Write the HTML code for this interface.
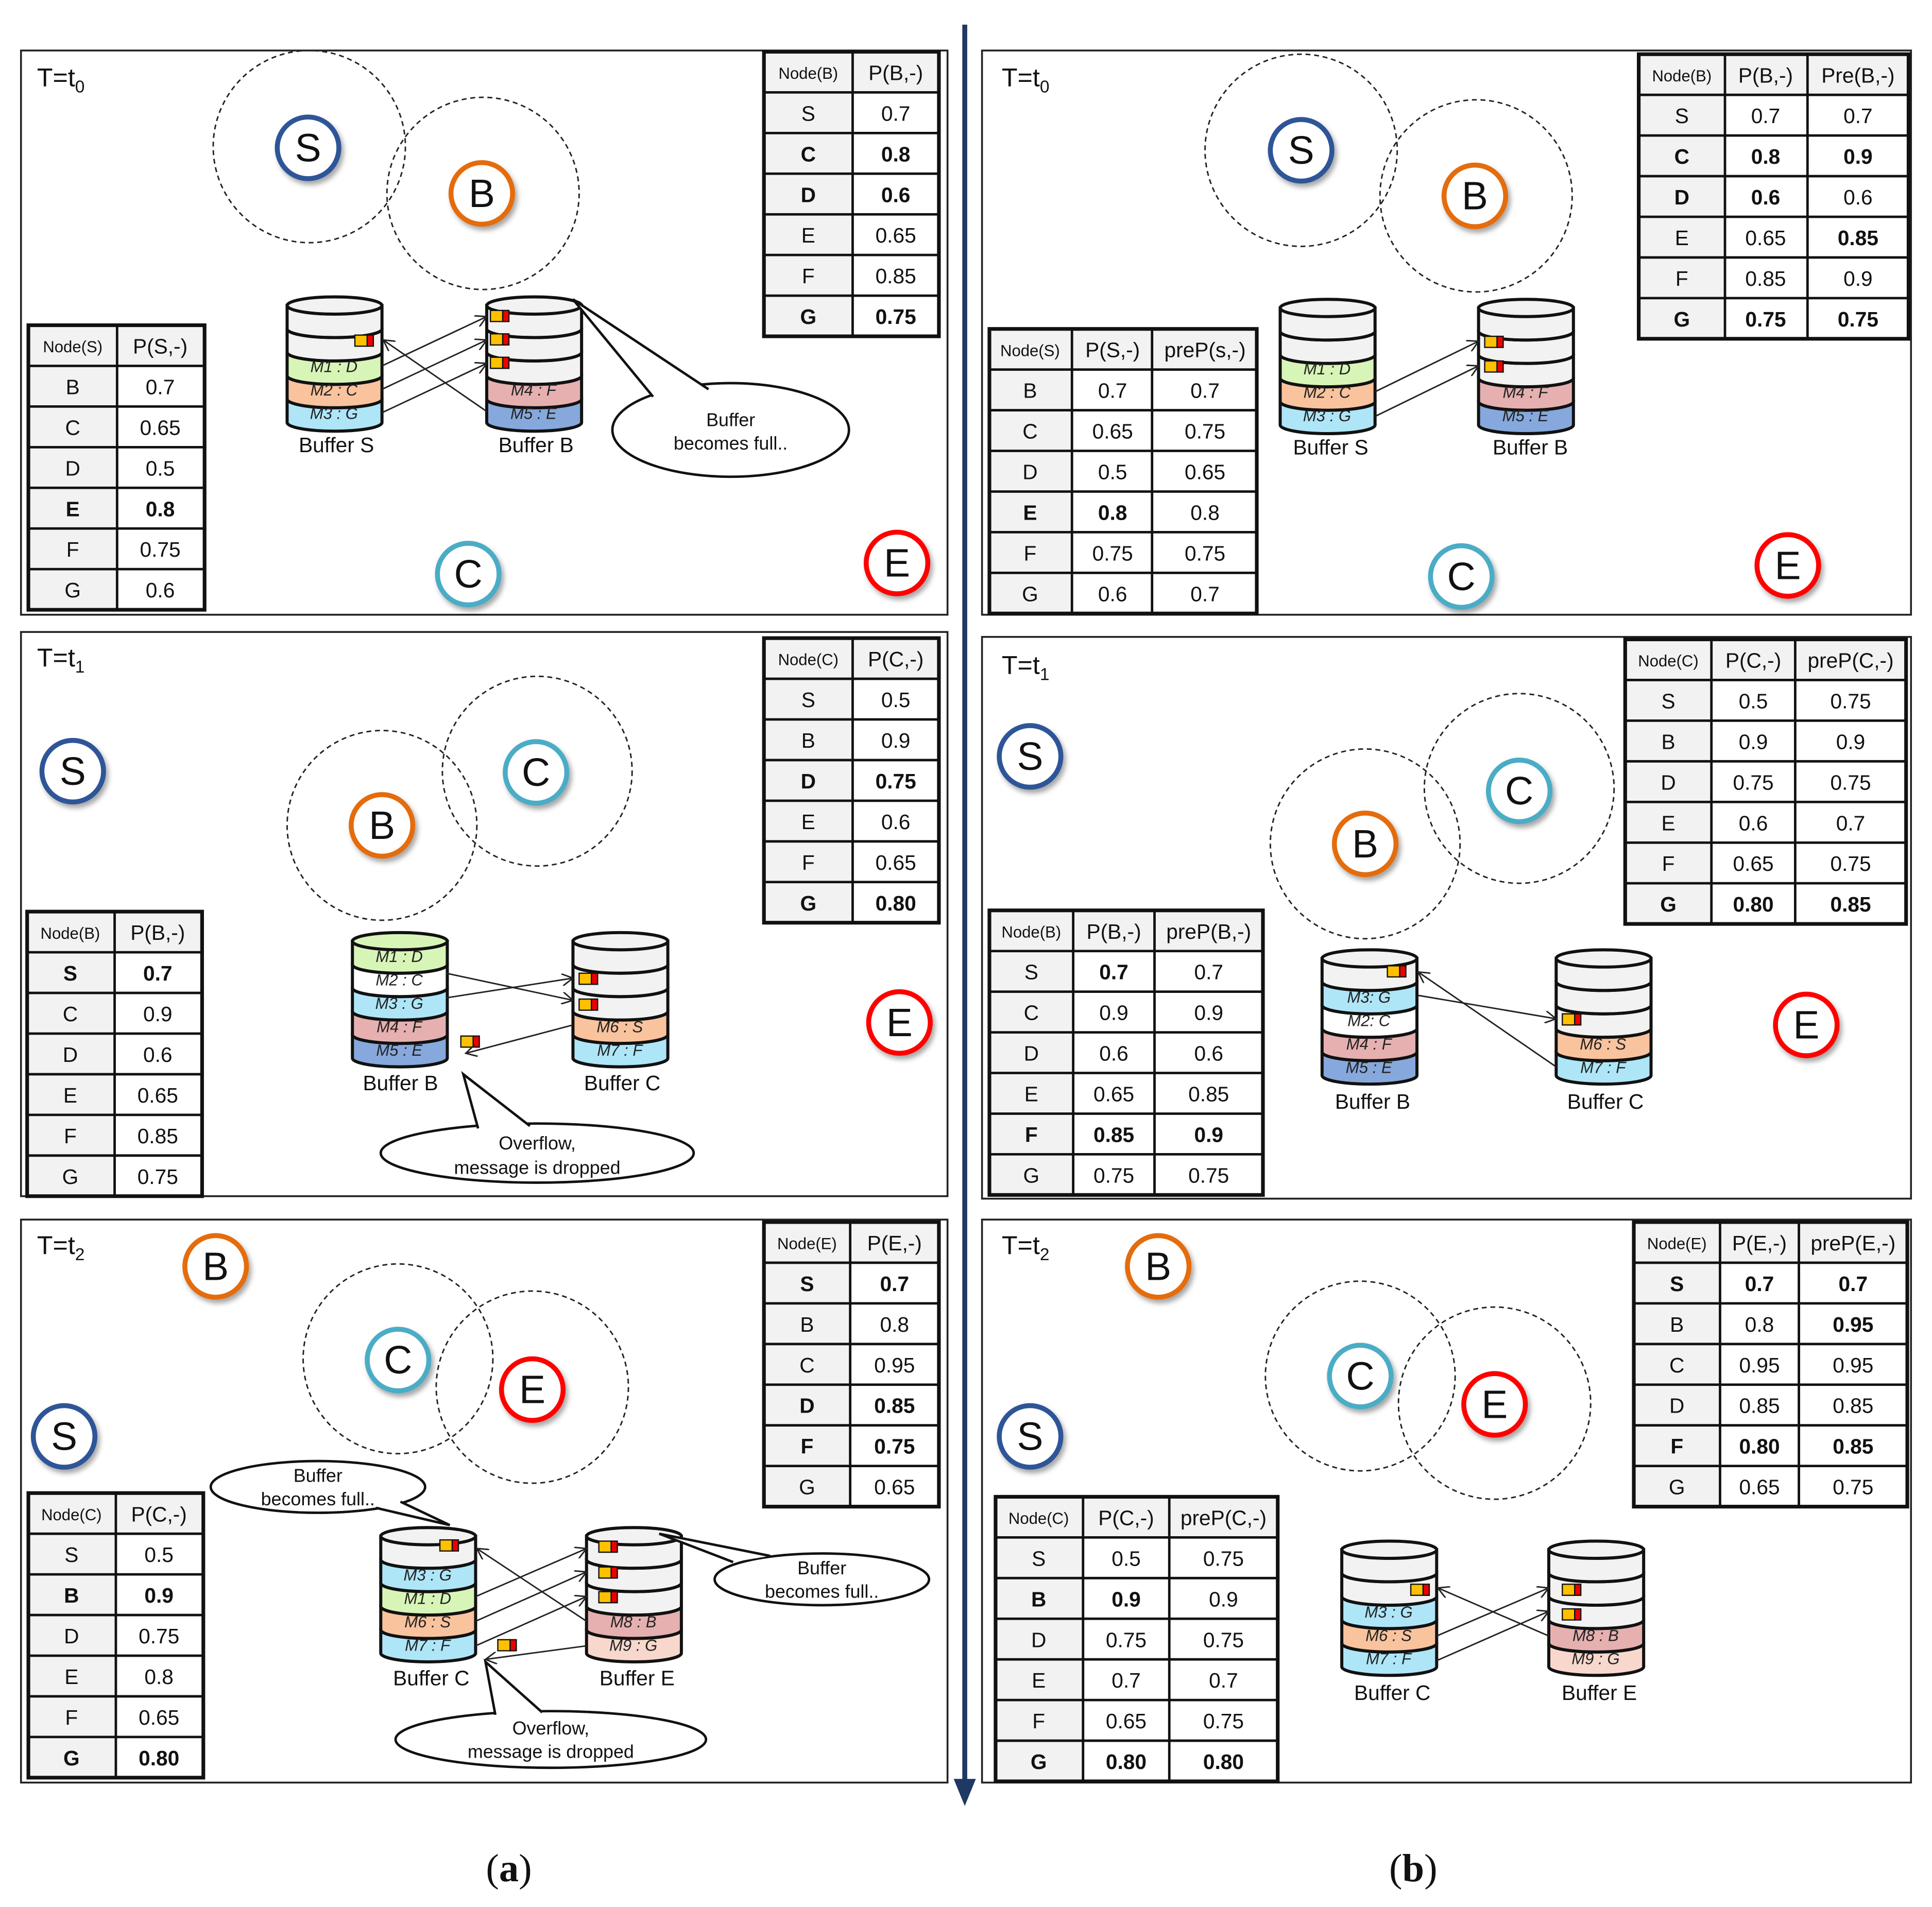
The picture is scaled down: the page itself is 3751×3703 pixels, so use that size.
<!DOCTYPE html>
<html><head><meta charset="utf-8"><style>
html,body{margin:0;padding:0;background:#fff}
svg{display:block}
text{font-family:"Liberation Sans",sans-serif;fill:#111}
.t{font-size:17px;text-anchor:middle}
.h{font-size:13px;text-anchor:middle}
.b{font-weight:bold}
.m{font-size:13px;font-style:italic;text-anchor:middle;fill:#222}
.bl{font-size:17px;text-anchor:middle}
.n{font-size:32px;text-anchor:middle}
.T{font-size:21px}
.c{font-size:15px;text-anchor:middle}
.dc{fill:none;stroke:#222;stroke-width:1.2;stroke-dasharray:4 3}
.ln{stroke:#222;stroke-width:1.2;fill:none;marker-end:url(#ah)}
.cl{fill:#fff;stroke:#111;stroke-width:2}
.pn{fill:none;stroke:#222;stroke-width:1.5}
.tb{fill:none;stroke:#111;stroke-width:3}
.tl{stroke:#111;stroke-width:2}
</style></head><body>
<svg width="3751" height="3703" viewBox="0 0 1568 1548" xmlns="http://www.w3.org/2000/svg">
<defs>
<filter id="sh" x="-30%" y="-30%" width="160%" height="160%"><feDropShadow dx="2" dy="3" stdDeviation="2" flood-color="#000" flood-opacity="0.35"/></filter>
<marker id="ah" markerWidth="10" markerHeight="10" refX="9" refY="5" orient="auto" markerUnits="userSpaceOnUse"><path d="M0,0 L9,5 L0,10" fill="none" stroke="#222" stroke-width="1.2"/></marker>
<g id="slot" stroke="#111" stroke-width="2.5"><path d="M0,0 L0,19 A38.5,7 0 0 0 77,19 L77,0 Z"/><ellipse cx="38.5" cy="0" rx="38.5" ry="7"/></g>
<g id="mk"><rect x="0" y="0" width="10" height="9" fill="#ffc000" stroke="#111" stroke-width="1"/><rect x="10" y="0" width="5" height="9" fill="#e00" stroke="#111" stroke-width="1"/></g>
</defs>
<rect width="1568" height="1548" fill="#fff"/>

<rect class="pn" x="17" y="41" width="752" height="458"/>
<rect class="pn" x="17" y="513" width="752" height="458"/>
<rect class="pn" x="17" y="990" width="752" height="457"/>
<rect class="pn" x="797" y="41" width="754" height="458"/>
<rect class="pn" x="797" y="517" width="754" height="456"/>
<rect class="pn" x="797" y="990" width="754" height="457"/>

<line x1="783" y1="20" x2="783" y2="1452" stroke="#1f3864" stroke-width="4"/>
<path d="M774,1444 L783,1466 L792,1444 Z" fill="#1f3864"/>
<text x="413" y="1527" style="font-family:'Liberation Serif',serif;font-size:32px" text-anchor="middle">(<tspan font-weight="bold">a</tspan>)</text>
<text x="1147" y="1527" style="font-family:'Liberation Serif',serif;font-size:32px" text-anchor="middle">(<tspan font-weight="bold">b</tspan>)</text>

<text class="T" x="30" y="70">T=t<tspan font-size="14" dy="5">0</tspan></text>
<text class="T" x="30" y="541">T=t<tspan font-size="14" dy="5">1</tspan></text>
<text class="T" x="30" y="1018">T=t<tspan font-size="14" dy="5">2</tspan></text>
<text class="T" x="813" y="70">T=t<tspan font-size="14" dy="5">0</tspan></text>
<text class="T" x="813" y="547">T=t<tspan font-size="14" dy="5">1</tspan></text>
<text class="T" x="813" y="1018">T=t<tspan font-size="14" dy="5">2</tspan></text>

<circle class="dc" cx="251" cy="119" r="78"/><circle class="dc" cx="392" cy="157" r="78"/>
<circle class="dc" cx="310" cy="670" r="77"/><circle class="dc" cx="436" cy="626" r="77"/>
<circle class="dc" cx="323" cy="1103" r="77"/><circle class="dc" cx="432" cy="1126" r="78"/>
<circle class="dc" cx="1056" cy="122" r="78"/><circle class="dc" cx="1198" cy="159" r="78"/>
<circle class="dc" cx="1108" cy="685" r="77"/><circle class="dc" cx="1233" cy="640" r="77"/>
<circle class="dc" cx="1104" cy="1117" r="77"/><circle class="dc" cx="1213" cy="1139" r="78"/>

<g stroke-width="4" fill="#fff" filter="url(#sh)">
<circle cx="250" cy="120" r="25" stroke="#2f5597"/><circle cx="391" cy="157" r="25" stroke="#e46c0a"/><circle cx="380" cy="466" r="25" stroke="#4bacc6"/><circle cx="728" cy="457" r="25" stroke="#f00"/>
<circle cx="59" cy="626" r="25" stroke="#2f5597"/><circle cx="310" cy="670" r="25" stroke="#e46c0a"/><circle cx="435" cy="627" r="25" stroke="#4bacc6"/><circle cx="730" cy="830" r="25" stroke="#f00"/>
<circle cx="175" cy="1028" r="25" stroke="#e46c0a"/><circle cx="323" cy="1104" r="25" stroke="#4bacc6"/><circle cx="432" cy="1128" r="25" stroke="#f00"/><circle cx="52" cy="1166" r="25" stroke="#2f5597"/>
<circle cx="1056" cy="122" r="25" stroke="#2f5597"/><circle cx="1197" cy="159" r="25" stroke="#e46c0a"/><circle cx="1186" cy="468" r="25" stroke="#4bacc6"/><circle cx="1451" cy="459" r="25" stroke="#f00"/>
<circle cx="836" cy="614" r="25" stroke="#2f5597"/><circle cx="1108" cy="685" r="25" stroke="#e46c0a"/><circle cx="1233" cy="642" r="25" stroke="#4bacc6"/><circle cx="1466" cy="832" r="25" stroke="#f00"/>
<circle cx="940" cy="1028" r="25" stroke="#e46c0a"/><circle cx="1104" cy="1117" r="25" stroke="#4bacc6"/><circle cx="1213" cy="1140" r="25" stroke="#f00"/><circle cx="836" cy="1166" r="25" stroke="#2f5597"/>
</g>
<g>
<text class="n" x="250" y="131">S</text><text class="n" x="391" y="168">B</text><text class="n" x="380" y="477">C</text><text class="n" x="728" y="468">E</text>
<text class="n" x="59" y="637">S</text><text class="n" x="310" y="681">B</text><text class="n" x="435" y="638">C</text><text class="n" x="730" y="841">E</text>
<text class="n" x="175" y="1039">B</text><text class="n" x="323" y="1115">C</text><text class="n" x="432" y="1139">E</text><text class="n" x="52" y="1177">S</text>
<text class="n" x="1056" y="133">S</text><text class="n" x="1197" y="170">B</text><text class="n" x="1186" y="479">C</text><text class="n" x="1451" y="470">E</text>
<text class="n" x="836" y="625">S</text><text class="n" x="1108" y="696">B</text><text class="n" x="1233" y="653">C</text><text class="n" x="1466" y="843">E</text>
<text class="n" x="940" y="1039">B</text><text class="n" x="1104" y="1128">C</text><text class="n" x="1213" y="1151">E</text><text class="n" x="836" y="1177">S</text>
</g>

<!-- A1 Buffer S -->
<g transform="translate(233,248)">
<use href="#slot" y="76" fill="#aee6f8"/><use href="#slot" y="57" fill="#f9c39e"/><use href="#slot" y="38" fill="#d8f5b8"/><use href="#slot" y="19" fill="#f2f2f2"/><use href="#slot" y="0" fill="#f2f2f2"/>
<text class="m" x="38" y="54">M1 : D</text><text class="m" x="38" y="73">M2 : C</text><text class="m" x="38" y="92">M3 : G</text>
</g>
<text class="bl" x="273" y="367">Buffer S</text>
<g transform="translate(395,248)">
<use href="#slot" y="76" fill="#86a8dc"/><use href="#slot" y="57" fill="#e6b0b0"/><use href="#slot" y="38" fill="#f2f2f2"/><use href="#slot" y="19" fill="#f2f2f2"/><use href="#slot" y="0" fill="#f2f2f2"/>
<text class="m" x="38" y="73">M4 : F</text><text class="m" x="38" y="92">M5 : E</text>
</g>
<text class="bl" x="435" y="367">Buffer B</text>
<use href="#mk" x="288" y="272"/><use href="#mk" x="398" y="252"/><use href="#mk" x="398" y="271"/><use href="#mk" x="398" y="290"/>
<line class="ln" x1="310" y1="297" x2="395" y2="257"/><line class="ln" x1="310" y1="316" x2="395" y2="276"/><line class="ln" x1="310" y1="335" x2="395" y2="295"/><line class="ln" x1="395" y1="334" x2="311" y2="276"/>

<!-- A2 -->
<g transform="translate(286,764)">
<use href="#slot" y="76" fill="#86a8dc"/><use href="#slot" y="57" fill="#e6b0b0"/><use href="#slot" y="38" fill="#aee6f8"/><use href="#slot" y="19" fill="#fff"/><use href="#slot" y="0" fill="#d8f5b8"/>
<text class="m" x="38" y="17">M1 : D</text><text class="m" x="38" y="36">M2 : C</text><text class="m" x="38" y="55">M3 : G</text><text class="m" x="38" y="74">M4 : F</text><text class="m" x="38" y="93">M5 : E</text>
</g>
<text class="bl" x="325" y="885">Buffer B</text>
<g transform="translate(465,764)">
<use href="#slot" y="76" fill="#aee6f8"/><use href="#slot" y="57" fill="#f9c39e"/><use href="#slot" y="38" fill="#f2f2f2"/><use href="#slot" y="19" fill="#f2f2f2"/><use href="#slot" y="0" fill="#f2f2f2"/>
<text class="m" x="38" y="74">M6 : S</text><text class="m" x="38" y="93">M7 : F</text>
</g>
<text class="bl" x="505" y="885">Buffer C</text>
<use href="#mk" x="470" y="790"/><use href="#mk" x="470" y="811"/><use href="#mk" x="374" y="841"/>
<line class="ln" x1="362" y1="790" x2="465" y2="812"/><line class="ln" x1="362" y1="810" x2="465" y2="794"/><line class="ln" x1="465" y1="832" x2="378" y2="855"/>

<!-- A3 -->
<g transform="translate(309,1247)">
<use href="#slot" y="76" fill="#aee6f8"/><use href="#slot" y="57" fill="#f9c39e"/><use href="#slot" y="38" fill="#d8f5b8"/><use href="#slot" y="19" fill="#aee6f8"/><use href="#slot" y="0" fill="#f2f2f2"/>
<text class="m" x="38" y="36">M3 : G</text><text class="m" x="38" y="55">M1 : D</text><text class="m" x="38" y="74">M6 : S</text><text class="m" x="38" y="93">M7 : F</text>
</g>
<text class="bl" x="350" y="1368">Buffer C</text>
<g transform="translate(476,1247)">
<use href="#slot" y="76" fill="#f8d8cc"/><use href="#slot" y="57" fill="#e6b0b0"/><use href="#slot" y="38" fill="#f2f2f2"/><use href="#slot" y="19" fill="#f2f2f2"/><use href="#slot" y="0" fill="#f2f2f2"/>
<text class="m" x="38" y="74">M8 : B</text><text class="m" x="38" y="93">M9 : G</text>
</g>
<text class="bl" x="517" y="1368">Buffer E</text>
<use href="#mk" x="357" y="1250"/><use href="#mk" x="486" y="1251"/><use href="#mk" x="486" y="1272"/><use href="#mk" x="486" y="1292"/><use href="#mk" x="404" y="1331"/>
<line class="ln" x1="386" y1="1296" x2="476" y2="1257"/><line class="ln" x1="386" y1="1316" x2="476" y2="1276"/><line class="ln" x1="386" y1="1336" x2="476" y2="1296"/><line class="ln" x1="476" y1="1316" x2="387" y2="1257"/><line class="ln" x1="476" y1="1336" x2="394" y2="1347"/>

<!-- B1 -->
<g transform="translate(1039,250)">
<use href="#slot" y="76" fill="#aee6f8"/><use href="#slot" y="57" fill="#f9c39e"/><use href="#slot" y="38" fill="#d8f5b8"/><use href="#slot" y="19" fill="#f2f2f2"/><use href="#slot" y="0" fill="#f2f2f2"/>
<text class="m" x="38" y="54">M1 : D</text><text class="m" x="38" y="73">M2 : C</text><text class="m" x="38" y="92">M3 : G</text>
</g>
<text class="bl" x="1080" y="369">Buffer S</text>
<g transform="translate(1200,250)">
<use href="#slot" y="76" fill="#86a8dc"/><use href="#slot" y="57" fill="#e6b0b0"/><use href="#slot" y="38" fill="#f2f2f2"/><use href="#slot" y="19" fill="#f2f2f2"/><use href="#slot" y="0" fill="#f2f2f2"/>
<text class="m" x="38" y="73">M4 : F</text><text class="m" x="38" y="92">M5 : E</text>
</g>
<text class="bl" x="1242" y="369">Buffer B</text>
<use href="#mk" x="1205" y="273"/><use href="#mk" x="1205" y="293"/>
<line class="ln" x1="1116" y1="318" x2="1200" y2="277"/><line class="ln" x1="1116" y1="338" x2="1200" y2="297"/>

<!-- B2 -->
<g transform="translate(1073,778)">
<use href="#slot" y="76" fill="#86a8dc"/><use href="#slot" y="57" fill="#e6b0b0"/><use href="#slot" y="38" fill="#fff"/><use href="#slot" y="19" fill="#aee6f8"/><use href="#slot" y="0" fill="#f2f2f2"/>
<text class="m" x="38" y="36">M3: G</text><text class="m" x="38" y="55">M2: C</text><text class="m" x="38" y="74">M4 : F</text><text class="m" x="38" y="93">M5 : E</text>
</g>
<text class="bl" x="1114" y="900">Buffer B</text>
<g transform="translate(1263,778)">
<use href="#slot" y="76" fill="#aee6f8"/><use href="#slot" y="57" fill="#f9c39e"/><use href="#slot" y="38" fill="#f2f2f2"/><use href="#slot" y="19" fill="#f2f2f2"/><use href="#slot" y="0" fill="#f2f2f2"/>
<text class="m" x="38" y="74">M6 : S</text><text class="m" x="38" y="93">M7 : F</text>
</g>
<text class="bl" x="1303" y="900">Buffer C</text>
<use href="#mk" x="1126" y="784"/><use href="#mk" x="1268" y="823"/>
<line class="ln" x1="1263" y1="866" x2="1151" y2="789"/><line class="ln" x1="1151" y1="808" x2="1263" y2="827"/>

<!-- B3 -->
<g transform="translate(1089,1258)">
<use href="#slot" y="76" fill="#aee6f8"/><use href="#slot" y="57" fill="#f9c39e"/><use href="#slot" y="38" fill="#aee6f8"/><use href="#slot" y="19" fill="#f2f2f2"/><use href="#slot" y="0" fill="#f2f2f2"/>
<text class="m" x="38" y="55">M3 : G</text><text class="m" x="38" y="74">M6 : S</text><text class="m" x="38" y="93">M7 : F</text>
</g>
<text class="bl" x="1130" y="1380">Buffer C</text>
<g transform="translate(1257,1258)">
<use href="#slot" y="76" fill="#f8d8cc"/><use href="#slot" y="57" fill="#e6b0b0"/><use href="#slot" y="38" fill="#f2f2f2"/><use href="#slot" y="19" fill="#f2f2f2"/><use href="#slot" y="0" fill="#f2f2f2"/>
<text class="m" x="38" y="74">M8 : B</text><text class="m" x="38" y="93">M9 : G</text>
</g>
<text class="bl" x="1298" y="1380">Buffer E</text>
<use href="#mk" x="1145" y="1286"/><use href="#mk" x="1268" y="1286"/><use href="#mk" x="1268" y="1306"/>
<line class="ln" x1="1166" y1="1328" x2="1257" y2="1289"/><line class="ln" x1="1166" y1="1348" x2="1257" y2="1308"/><line class="ln" x1="1257" y1="1328" x2="1167" y2="1289"/>

<!-- callouts -->
<ellipse class="cl" cx="593" cy="349" rx="96" ry="38"/><path d="M530,322 L465,243 L575,316" fill="#fff" stroke="#111" stroke-width="2"/>
<text class="c" x="593" y="346">Buffer</text><text class="c" x="593" y="365">becomes full..</text>
<ellipse class="cl" cx="436" cy="936" rx="127" ry="24"/><path d="M388,916 L376,872 L430,914" fill="#fff" stroke="#111" stroke-width="2"/>
<text class="c" x="436" y="933">Overflow,</text><text class="c" x="436" y="953">message is dropped</text>
<ellipse class="cl" cx="258" cy="1207" rx="87" ry="21"/><path d="M305,1224 L365,1238 L325,1219" fill="#fff" stroke="#111" stroke-width="2"/>
<text class="c" x="258" y="1203">Buffer</text><text class="c" x="258" y="1222">becomes full..</text>
<ellipse class="cl" cx="667" cy="1282" rx="87" ry="21"/><path d="M595,1268 L535,1245 L625,1263" fill="#fff" stroke="#111" stroke-width="2"/>
<text class="c" x="667" y="1278">Buffer</text><text class="c" x="667" y="1297">becomes full..</text>
<ellipse class="cl" cx="447" cy="1412" rx="126" ry="23"/><path d="M402,1392 L394,1349 L440,1390" fill="#fff" stroke="#111" stroke-width="2"/>
<text class="c" x="447" y="1408">Overflow,</text><text class="c" x="447" y="1427">message is dropped</text>

<!-- TABLES -->
<g transform="translate(620,42)">
<rect width="142" height="231" fill="#fff"/><rect width="72" height="231" fill="#f2f2f2"/><rect width="142" height="33" fill="#f2f2f2"/>
<path class="tl" d="M0,33H142M0,66H142M0,99H142M0,132H142M0,165H142M0,198H142M72,0V231"/><rect class="tb" width="142" height="231"/>
<text class="h" x="36" y="22">Node(B)</text><text class="t" x="107" y="23">P(B,-)</text>
<text class="t" x="36" y="56">S</text><text class="t" x="107" y="56">0.7</text>
<text class="t b" x="36" y="89">C</text><text class="t b" x="107" y="89">0.8</text>
<text class="t b" x="36" y="122">D</text><text class="t b" x="107" y="122">0.6</text>
<text class="t" x="36" y="155">E</text><text class="t" x="107" y="155">0.65</text>
<text class="t" x="36" y="188">F</text><text class="t" x="107" y="188">0.85</text>
<text class="t b" x="36" y="221">G</text><text class="t b" x="107" y="221">0.75</text>
</g>
<g transform="translate(23,264)">
<rect width="143" height="231" fill="#fff"/><rect width="72" height="231" fill="#f2f2f2"/><rect width="143" height="33" fill="#f2f2f2"/>
<path class="tl" d="M0,33H143M0,66H143M0,99H143M0,132H143M0,165H143M0,198H143M72,0V231"/><rect class="tb" width="143" height="231"/>
<text class="h" x="36" y="22">Node(S)</text><text class="t" x="107" y="23">P(S,-)</text>
<text class="t" x="36" y="56">B</text><text class="t" x="107" y="56">0.7</text>
<text class="t" x="36" y="89">C</text><text class="t" x="107" y="89">0.65</text>
<text class="t" x="36" y="122">D</text><text class="t" x="107" y="122">0.5</text>
<text class="t b" x="36" y="155">E</text><text class="t b" x="107" y="155">0.8</text>
<text class="t" x="36" y="188">F</text><text class="t" x="107" y="188">0.75</text>
<text class="t" x="36" y="221">G</text><text class="t" x="107" y="221">0.6</text>
</g>
<g transform="translate(620,518)">
<rect width="142" height="231" fill="#fff"/><rect width="72" height="231" fill="#f2f2f2"/><rect width="142" height="33" fill="#f2f2f2"/>
<path class="tl" d="M0,33H142M0,66H142M0,99H142M0,132H142M0,165H142M0,198H142M72,0V231"/><rect class="tb" width="142" height="231"/>
<text class="h" x="36" y="22">Node(C)</text><text class="t" x="107" y="23">P(C,-)</text>
<text class="t" x="36" y="56">S</text><text class="t" x="107" y="56">0.5</text>
<text class="t" x="36" y="89">B</text><text class="t" x="107" y="89">0.9</text>
<text class="t b" x="36" y="122">D</text><text class="t b" x="107" y="122">0.75</text>
<text class="t" x="36" y="155">E</text><text class="t" x="107" y="155">0.6</text>
<text class="t" x="36" y="188">F</text><text class="t" x="107" y="188">0.65</text>
<text class="t b" x="36" y="221">G</text><text class="t b" x="107" y="221">0.80</text>
</g>
<g transform="translate(22,740)">
<rect width="142" height="231" fill="#fff"/><rect width="71" height="231" fill="#f2f2f2"/><rect width="142" height="33" fill="#f2f2f2"/>
<path class="tl" d="M0,33H142M0,66H142M0,99H142M0,132H142M0,165H142M0,198H142M71,0V231"/><rect class="tb" width="142" height="231"/>
<text class="h" x="35" y="22">Node(B)</text><text class="t" x="106" y="23">P(B,-)</text>
<text class="t b" x="35" y="56">S</text><text class="t b" x="106" y="56">0.7</text>
<text class="t" x="35" y="89">C</text><text class="t" x="106" y="89">0.9</text>
<text class="t" x="35" y="122">D</text><text class="t" x="106" y="122">0.6</text>
<text class="t" x="35" y="155">E</text><text class="t" x="106" y="155">0.65</text>
<text class="t" x="35" y="188">F</text><text class="t" x="106" y="188">0.85</text>
<text class="t" x="35" y="221">G</text><text class="t" x="106" y="221">0.75</text>
</g>
<g transform="translate(620,992)">
<rect width="142" height="231" fill="#fff"/><rect width="70" height="231" fill="#f2f2f2"/><rect width="142" height="33" fill="#f2f2f2"/>
<path class="tl" d="M0,33H142M0,66H142M0,99H142M0,132H142M0,165H142M0,198H142M70,0V231"/><rect class="tb" width="142" height="231"/>
<text class="h" x="35" y="22">Node(E)</text><text class="t" x="106" y="23">P(E,-)</text>
<text class="t b" x="35" y="56">S</text><text class="t b" x="106" y="56">0.7</text>
<text class="t" x="35" y="89">B</text><text class="t" x="106" y="89">0.8</text>
<text class="t" x="35" y="122">C</text><text class="t" x="106" y="122">0.95</text>
<text class="t b" x="35" y="155">D</text><text class="t b" x="106" y="155">0.85</text>
<text class="t b" x="35" y="188">F</text><text class="t b" x="106" y="188">0.75</text>
<text class="t" x="35" y="221">G</text><text class="t" x="106" y="221">0.65</text>
</g>
<g transform="translate(23,1212)">
<rect width="142" height="231" fill="#fff"/><rect width="71" height="231" fill="#f2f2f2"/><rect width="142" height="33" fill="#f2f2f2"/>
<path class="tl" d="M0,33H142M0,66H142M0,99H142M0,132H142M0,165H142M0,198H142M71,0V231"/><rect class="tb" width="142" height="231"/>
<text class="h" x="35" y="22">Node(C)</text><text class="t" x="106" y="23">P(C,-)</text>
<text class="t" x="35" y="56">S</text><text class="t" x="106" y="56">0.5</text>
<text class="t b" x="35" y="89">B</text><text class="t b" x="106" y="89">0.9</text>
<text class="t" x="35" y="122">D</text><text class="t" x="106" y="122">0.75</text>
<text class="t" x="35" y="155">E</text><text class="t" x="106" y="155">0.8</text>
<text class="t" x="35" y="188">F</text><text class="t" x="106" y="188">0.65</text>
<text class="t b" x="35" y="221">G</text><text class="t b" x="106" y="221">0.80</text>
</g>
<g transform="translate(1330,44)">
<rect width="219" height="231" fill="#fff"/><rect width="70" height="231" fill="#f2f2f2"/><rect width="219" height="33" fill="#f2f2f2"/>
<path class="tl" d="M0,33H219M0,66H219M0,99H219M0,132H219M0,165H219M0,198H219M70,0V231M137,0V231"/><rect class="tb" width="219" height="231"/>
<text class="h" x="35" y="22">Node(B)</text><text class="t" x="103" y="23">P(B,-)</text><text class="t" x="178" y="23">Pre(B,-)</text>
<text class="t" x="35" y="56">S</text><text class="t" x="103" y="56">0.7</text><text class="t" x="178" y="56">0.7</text>
<text class="t b" x="35" y="89">C</text><text class="t b" x="103" y="89">0.8</text><text class="t b" x="178" y="89">0.9</text>
<text class="t b" x="35" y="122">D</text><text class="t b" x="103" y="122">0.6</text><text class="t" x="178" y="122">0.6</text>
<text class="t" x="35" y="155">E</text><text class="t" x="103" y="155">0.65</text><text class="t b" x="178" y="155">0.85</text>
<text class="t" x="35" y="188">F</text><text class="t" x="103" y="188">0.85</text><text class="t" x="178" y="188">0.9</text>
<text class="t b" x="35" y="221">G</text><text class="t b" x="103" y="221">0.75</text><text class="t b" x="178" y="221">0.75</text>
</g>
<g transform="translate(803,267)">
<rect width="217" height="231" fill="#fff"/><rect width="67" height="231" fill="#f2f2f2"/><rect width="217" height="33" fill="#f2f2f2"/>
<path class="tl" d="M0,33H217M0,66H217M0,99H217M0,132H217M0,165H217M0,198H217M67,0V231M132,0V231"/><rect class="tb" width="217" height="231"/>
<text class="h" x="33" y="22">Node(S)</text><text class="t" x="100" y="23">P(S,-)</text><text class="t" x="175" y="23">preP(s,-)</text>
<text class="t" x="33" y="56">B</text><text class="t" x="100" y="56">0.7</text><text class="t" x="175" y="56">0.7</text>
<text class="t" x="33" y="89">C</text><text class="t" x="100" y="89">0.65</text><text class="t" x="175" y="89">0.75</text>
<text class="t" x="33" y="122">D</text><text class="t" x="100" y="122">0.5</text><text class="t" x="175" y="122">0.65</text>
<text class="t b" x="33" y="155">E</text><text class="t b" x="100" y="155">0.8</text><text class="t" x="175" y="155">0.8</text>
<text class="t" x="33" y="188">F</text><text class="t" x="100" y="188">0.75</text><text class="t" x="175" y="188">0.75</text>
<text class="t" x="33" y="221">G</text><text class="t" x="100" y="221">0.6</text><text class="t" x="175" y="221">0.7</text>
</g>
<g transform="translate(1319,519)">
<rect width="228" height="231" fill="#fff"/><rect width="70" height="231" fill="#f2f2f2"/><rect width="228" height="33" fill="#f2f2f2"/>
<path class="tl" d="M0,33H228M0,66H228M0,99H228M0,132H228M0,165H228M0,198H228M70,0V231M138,0V231"/><rect class="tb" width="228" height="231"/>
<text class="h" x="35" y="22">Node(C)</text><text class="t" x="104" y="23">P(C,-)</text><text class="t" x="183" y="23">preP(C,-)</text>
<text class="t" x="35" y="56">S</text><text class="t" x="104" y="56">0.5</text><text class="t" x="183" y="56">0.75</text>
<text class="t" x="35" y="89">B</text><text class="t" x="104" y="89">0.9</text><text class="t" x="183" y="89">0.9</text>
<text class="t" x="35" y="122">D</text><text class="t" x="104" y="122">0.75</text><text class="t" x="183" y="122">0.75</text>
<text class="t" x="35" y="155">E</text><text class="t" x="104" y="155">0.6</text><text class="t" x="183" y="155">0.7</text>
<text class="t" x="35" y="188">F</text><text class="t" x="104" y="188">0.65</text><text class="t" x="183" y="188">0.75</text>
<text class="t b" x="35" y="221">G</text><text class="t b" x="104" y="221">0.80</text><text class="t b" x="183" y="221">0.85</text>
</g>
<g transform="translate(803,739)">
<rect width="222" height="231" fill="#fff"/><rect width="68" height="231" fill="#f2f2f2"/><rect width="222" height="33" fill="#f2f2f2"/>
<path class="tl" d="M0,33H222M0,66H222M0,99H222M0,132H222M0,165H222M0,198H222M68,0V231M134,0V231"/><rect class="tb" width="222" height="231"/>
<text class="h" x="34" y="22">Node(B)</text><text class="t" x="101" y="23">P(B,-)</text><text class="t" x="178" y="23">preP(B,-)</text>
<text class="t" x="34" y="56">S</text><text class="t b" x="101" y="56">0.7</text><text class="t" x="178" y="56">0.7</text>
<text class="t" x="34" y="89">C</text><text class="t" x="101" y="89">0.9</text><text class="t" x="178" y="89">0.9</text>
<text class="t" x="34" y="122">D</text><text class="t" x="101" y="122">0.6</text><text class="t" x="178" y="122">0.6</text>
<text class="t" x="34" y="155">E</text><text class="t" x="101" y="155">0.65</text><text class="t" x="178" y="155">0.85</text>
<text class="t b" x="34" y="188">F</text><text class="t b" x="101" y="188">0.85</text><text class="t b" x="178" y="188">0.9</text>
<text class="t" x="34" y="221">G</text><text class="t" x="101" y="221">0.75</text><text class="t" x="178" y="221">0.75</text>
</g>
<g transform="translate(1326,992)">
<rect width="222" height="231" fill="#fff"/><rect width="70" height="231" fill="#f2f2f2"/><rect width="222" height="33" fill="#f2f2f2"/>
<path class="tl" d="M0,33H222M0,66H222M0,99H222M0,132H222M0,165H222M0,198H222M70,0V231M134,0V231"/><rect class="tb" width="222" height="231"/>
<text class="h" x="35" y="22">Node(E)</text><text class="t" x="102" y="23">P(E,-)</text><text class="t" x="178" y="23">preP(E,-)</text>
<text class="t b" x="35" y="56">S</text><text class="t b" x="102" y="56">0.7</text><text class="t b" x="178" y="56">0.7</text>
<text class="t" x="35" y="89">B</text><text class="t" x="102" y="89">0.8</text><text class="t b" x="178" y="89">0.95</text>
<text class="t" x="35" y="122">C</text><text class="t" x="102" y="122">0.95</text><text class="t" x="178" y="122">0.95</text>
<text class="t" x="35" y="155">D</text><text class="t" x="102" y="155">0.85</text><text class="t" x="178" y="155">0.85</text>
<text class="t b" x="35" y="188">F</text><text class="t b" x="102" y="188">0.80</text><text class="t b" x="178" y="188">0.85</text>
<text class="t" x="35" y="221">G</text><text class="t" x="102" y="221">0.65</text><text class="t" x="178" y="221">0.75</text>
</g>
<g transform="translate(808,1215)">
<rect width="229" height="231" fill="#fff"/><rect width="71" height="231" fill="#f2f2f2"/><rect width="229" height="33" fill="#f2f2f2"/>
<path class="tl" d="M0,33H229M0,66H229M0,99H229M0,132H229M0,165H229M0,198H229M71,0V231M141,0V231"/><rect class="tb" width="229" height="231"/>
<text class="h" x="35" y="22">Node(C)</text><text class="t" x="106" y="23">P(C,-)</text><text class="t" x="185" y="23">preP(C,-)</text>
<text class="t" x="35" y="56">S</text><text class="t" x="106" y="56">0.5</text><text class="t" x="185" y="56">0.75</text>
<text class="t b" x="35" y="89">B</text><text class="t b" x="106" y="89">0.9</text><text class="t" x="185" y="89">0.9</text>
<text class="t" x="35" y="122">D</text><text class="t" x="106" y="122">0.75</text><text class="t" x="185" y="122">0.75</text>
<text class="t" x="35" y="155">E</text><text class="t" x="106" y="155">0.7</text><text class="t" x="185" y="155">0.7</text>
<text class="t" x="35" y="188">F</text><text class="t" x="106" y="188">0.65</text><text class="t" x="185" y="188">0.75</text>
<text class="t b" x="35" y="221">G</text><text class="t b" x="106" y="221">0.80</text><text class="t b" x="185" y="221">0.80</text>
</g>
</svg>
</body></html>
